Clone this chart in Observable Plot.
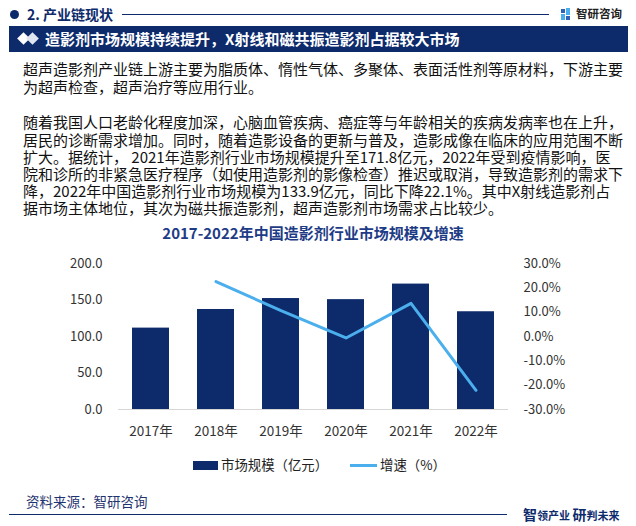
<!DOCTYPE html>
<html><head><meta charset="utf-8">
<script src="https://cdn.jsdelivr.net/npm/d3@7"></script>
<script src="https://cdn.jsdelivr.net/npm/@observablehq/plot@0.6"></script>
<style>
html,body{margin:0;padding:0;background:#fff;}
#page{position:relative;width:636px;height:526px;overflow:hidden;background:#fff;font-family:'Noto Sans CJK SC','Noto Sans',sans-serif;}
.abs{position:absolute;white-space:nowrap;line-height:1;}
</style></head>
<body><div id="page"></div>
<script>
const years = ["2017年","2018年","2019年","2020年","2021年","2022年"];
const market = [111.5, 137.0, 152.0, 150.5, 171.8, 133.9];
const growth = [null, 22.6, 10.6, -0.6, 13.6, -22.1];
const leftTicks = [0, 50, 100, 150, 200];
const rightTicks = [-30, -20, -10, 0, 10, 20, 30];
const sectionTitle = "2. 产业链现状";
const brand = "智研咨询";
const bannerTitle = "造影剂市场规模持续提升，X射线和磁共振造影剂占据较大市场";
const para1 = [
  "超声造影剂产业链上游主要为脂质体、惰性气体、多聚体、表面活性剂等原材料，下游主要",
  "为超声检查，超声治疗等应用行业。"
];
const para2 = [
  "随着我国人口老龄化程度加深，心脑血管疾病、癌症等与年龄相关的疾病发病率也在上升，",
  "居民的诊断需求增加。同时，随着造影设备的更新与普及，造影成像在临床的应用范围不断",
  "扩大。据统计， 2021年造影剂行业市场规模提升至171.8亿元，2022年受到疫情影响，医",
  "院和诊所的非紧急医疗程序（如使用造影剂的影像检查）推迟或取消，导致造影剂的需求下",
  "降，2022年中国造影剂行业市场规模为133.9亿元，同比下降22.1%。其中X射线造影剂占",
  "据市场主体地位，其次为磁共振造影剂，超声造影剂市场需求占比较少。"
];
const chartTitle = "2017-2022年中国造影剂行业市场规模及增速";
const legendLabels = ["市场规模（亿元）", "增速（%）"];
const source = "资料来源：智研咨询";
const slogan = [["智",14],["领产业 ",11],["研",14],["判未来",11]];

const NAVY = "#0D2A6B";
const BLUE = "#4AAFEC";
const page = document.getElementById("page");

function el(tag, css, html) {
  const e = document.createElement(tag);
  e.style.cssText = css;
  if (html !== undefined) e.innerHTML = html;
  page.appendChild(e);
  return e;
}

// header
el("div", `position:absolute;left:10px;top:10px;width:9px;height:9px;border-radius:50%;background:${NAVY};`);
el("div", `left:27px;top:7px;font-size:14px;font-weight:bold;color:${NAVY};`, sectionTitle).className = "abs";
el("div", `position:absolute;left:122px;top:14px;width:427px;height:1px;background:${NAVY};`);
el("div", `position:absolute;left:561px;top:9px;width:4px;height:4px;background:#2E63B8;`);
el("div", `position:absolute;left:566px;top:8px;width:4px;height:7px;background:#4AAFEC;`);
el("div", `position:absolute;left:561px;top:14px;width:4px;height:6px;background:#4AAFEC;`);
el("div", `position:absolute;left:566px;top:16px;width:4px;height:4px;background:#2E63B8;`);
el("div", `left:576px;top:8px;font-size:11.5px;font-weight:bold;color:#222;`, brand).className = "abs";

// banner
el("div", `position:absolute;left:9px;top:26px;width:619px;height:26px;background:${NAVY};`);
el("div", `position:absolute;left:19px;top:34px;width:9px;height:9px;background:#fff;transform:rotate(45deg);`);
el("div", `position:absolute;left:28px;top:34px;width:9px;height:9px;background:#dfe6f2;transform:rotate(45deg);`);
el("div", `left:45px;top:31px;font-size:15px;font-weight:bold;color:#fff;`, bannerTitle).className = "abs";

// body text: one block per paragraph
const pitch = 17.2;
function para(lines, y0) {
  const d = el("div", `position:absolute;white-space:nowrap;left:23px;top:${y0 - pitch/2}px;font-size:15px;line-height:${pitch}px;color:#111;`,
    lines.join("<br>"));
}
para(para1, 69);
para(para2, 122);

// chart title
el("div", `left:0;top:${232-7.5}px;width:626px;text-align:center;font-size:15px;font-weight:bold;color:#1E3C86;`, chartTitle).className = "abs";

// chart
const data = years.map((y, i) => ({year: y, market: market[i], growth: growth[i]}));
const toY = g => (g + 30) * 200 / 60;
const chart = Plot.plot({
  width: 636, height: 200,
  marginLeft: 118, marginRight: 128, marginTop: 13, marginBottom: 41,
  style: {fontFamily: "'Noto Sans CJK SC','Noto Sans',sans-serif", fontSize: "13px", color: "#333", background: "transparent"},
  x: {type: "band", domain: years, paddingInner: 0.43, paddingOuter: 0.215},
  y: {domain: [0, 200]},
  marks: [
    Plot.barY(data, {x: "year", y: "market", fill: NAVY}),
    Plot.ruleY([0], {stroke: "#d6d6d6", strokeWidth: 1}),
    Plot.line(data.filter(d => d.growth !== null), {x: "year", y: d => toY(d.growth), stroke: BLUE, strokeWidth: 3}),
    Plot.axisX({tickSize: 0, tickPadding: 17, label: null, fontSize: 13.5}),
    Plot.axisY({anchor: "left", ticks: leftTicks, tickSize: 0, tickPadding: 16, label: null, tickFormat: d3.format(".1f")}),
    Plot.axisY({anchor: "right", ticks: rightTicks.map(toY), tickSize: 0, tickPadding: 15, label: null,
      tickFormat: d => Math.round(d * 60 / 200 - 30).toFixed(1) + "%"})
  ]
});
chart.style.position = "absolute";
chart.style.left = "0px";
chart.style.top = "250px";
page.appendChild(chart);

// legend
el("div", `position:absolute;left:193px;top:461px;width:25px;height:9px;background:${NAVY};`);
el("div", `left:221px;top:${465-6.7}px;font-size:13.4px;color:#222;`, legendLabels[0]).className = "abs";
el("div", `position:absolute;left:350px;top:464px;width:27px;height:3px;background:${BLUE};`);
el("div", `left:380px;top:${465-6.7}px;font-size:13.4px;color:#222;`, legendLabels[1]).className = "abs";

// footer
el("div", `left:26px;top:${502-6.7}px;font-size:13.5px;color:#1F3370;`, source).className = "abs";
el("div", `position:absolute;left:9px;top:514px;width:498px;height:1px;background:${NAVY};`);
const sl = el("div", `left:523px;top:505px;color:${NAVY};font-weight:bold;`);
sl.className = "abs";
sl.innerHTML = slogan.map(([t, s]) => `<span style="font-size:${s}px">${t}</span>`).join("");
</script>
</body></html>
